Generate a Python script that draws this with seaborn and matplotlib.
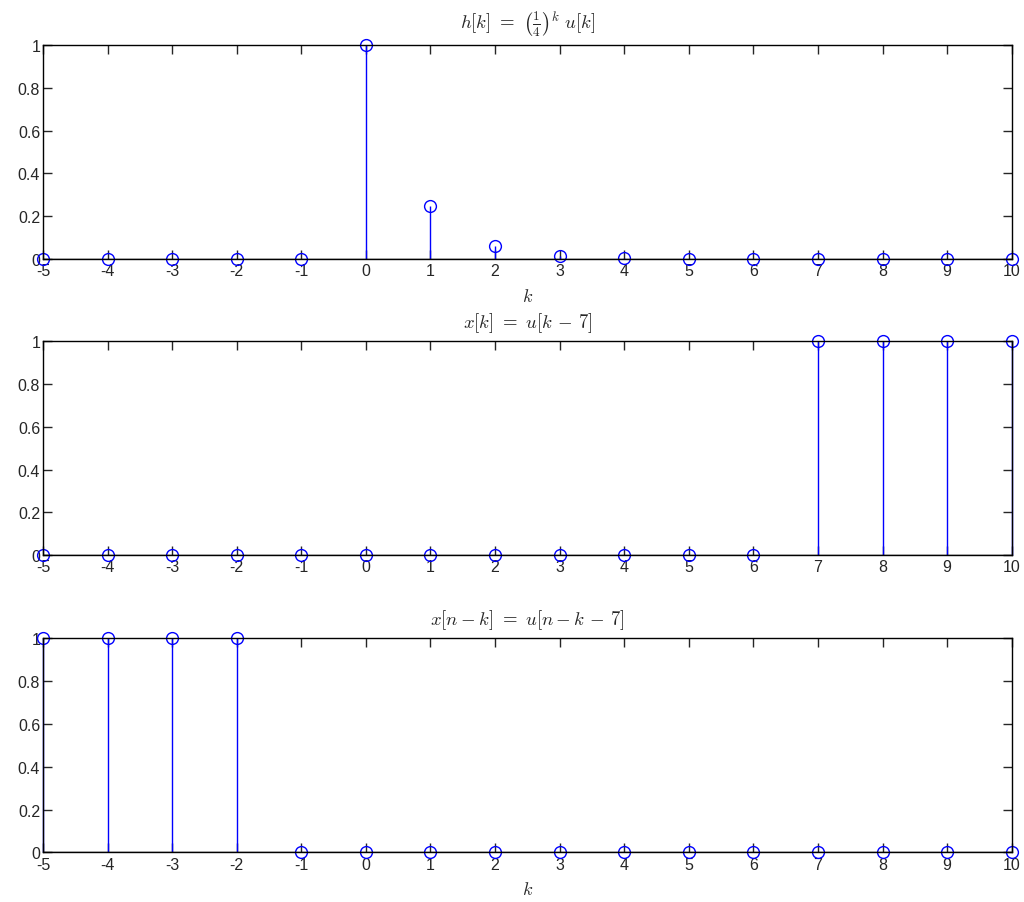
import numpy as np
import matplotlib
matplotlib.use("Agg")
import matplotlib.pyplot as plt
import seaborn as sns

# sample index
k = list(range(-5, 11))

# h[k] = (1/4)^k u[k]
h_vals = [0, 0, 0, 0, 0, 1, 0.25, 0.0625, 0.0156, 0.0039, 0.001, 0.0002, 0.0001, 0, 0, 0]
# x[k] = u[k-7]
x_vals = [0, 0, 0, 0, 0, 0, 0, 0, 0, 0, 0, 0, 1, 1, 1, 1]
# x[n-k] = u[n-k-7]
xr_vals = [1, 1, 1, 1, 0, 0, 0, 0, 0, 0, 0, 0, 0, 0, 0, 0]

titles = [r"$h[k]\ =\ \left(\frac{1}{4}\right)^k\ u[k]$",
          r"$x[k]\ =\ u[k\,-\,7]$",
          r"$x[n-k]\ =\ u[n-k\,-\,7]$"]
series = [h_vals, x_vals, xr_vals]
show_xlabel = [True, False, True]
title_pads = [12, 10, 10]

sns.set_style("ticks")
plt.rcParams['font.family'] = ['Liberation Sans', 'DejaVu Sans']
plt.rcParams['mathtext.fontset'] = 'cm'

fig = plt.figure(figsize=(10.24, 9.03), dpi=100)
bottoms = [0.712, 0.384, 0.055]

for i in range(3):
    ax = fig.add_axes([0.042, bottoms[i], 0.946, 0.237])
    ml, sl, bl = ax.stem(k, series[i], linefmt='b-', markerfmt='o', basefmt='k-')
    ml.set_markerfacecolor('none')
    ml.set_markeredgecolor('blue')
    ml.set_markersize(8.5)
    ml.set_markeredgewidth(1.0)
    ml.set_clip_on(False)
    sl.set_linewidth(1.0)
    sl.set_clip_on(False)
    bl.set_linewidth(1.0)
    ax.set_xlim(-5, 10)
    ax.set_ylim(0, 1)
    ax.set_xticks(k)
    ax.set_xticklabels([str(v) for v in k])
    ax.set_yticks([0, 0.2, 0.4, 0.6, 0.8, 1])
    ax.set_yticklabels(['0', '0.2', '0.4', '0.6', '0.8', '1'])
    ax.tick_params(direction='in', top=True, right=True, length=6.5, width=1,
                   labelsize=11.5)
    ax.tick_params(axis='x', pad=3)
    ax.tick_params(axis='y', pad=2)
    for s in ax.spines.values():
        s.set_linewidth(1.0)
        s.set_color('black')
    ax.set_title(titles[i], fontsize=13.5, pad=title_pads[i])
    if show_xlabel[i]:
        ax.set_xlabel(r"$k$", fontsize=13, labelpad=7)

fig.savefig("out.png", dpi=100)
